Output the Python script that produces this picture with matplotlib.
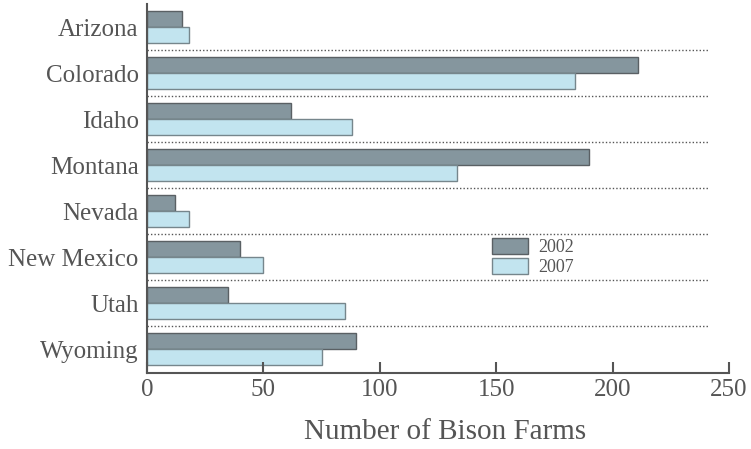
import numpy as np
import matplotlib
matplotlib.use("Agg")
import matplotlib.pyplot as plt

states = ["Arizona", "Colorado", "Idaho", "Montana", "Nevada", "New Mexico", "Utah", "Wyoming"]
farms_2002 = [15, 211, 62, 190, 12, 40, 35, 90]
farms_2007 = [18, 184, 88, 133, 18, 50, 85, 75]
x_ticks = [0, 50, 100, 150, 200, 250]

plt.rcParams['font.family'] = ['Liberation Serif', 'DejaVu Serif']
text_color = "#555555"

fig = plt.figure(figsize=(7.51, 4.49), dpi=100)
ax = fig.add_axes([0.1957, 0.1693, 0.775, 0.8217])

y = np.arange(len(states))
h = 0.35
ax.barh(y - h / 2, farms_2002, height=h, color="#85969e", edgecolor="#5a6064",
        linewidth=1, label="2002")
ax.barh(y + h / 2, farms_2007, height=h, color="#c2e4ef", edgecolor="#76868c",
        linewidth=1, label="2007")

# dotted separators between states
ax.hlines(y[:-1] + 0.5, 0, 241, colors="#555555", linestyles=(0, (1, 1.5)), linewidth=1)

ax.set_ylim(7.52, -0.5)
ax.set_xlim(0, 250)
ax.set_yticks(y)
ax.set_yticklabels(states, fontsize=18, color=text_color)
ax.tick_params(axis="y", length=0, pad=6)
ax.set_xticks(x_ticks)
ax.set_xticklabels([str(t) for t in x_ticks], fontsize=18, color=text_color)
ax.tick_params(axis="x", direction="in", length=8, width=1.5, color="#555555", pad=4)
ax.set_xlabel("Number of Bison Farms", fontsize=21, color=text_color)
ax.xaxis.set_label_coords(0.512, -0.125)

for side in ["top", "right"]:
    ax.spines[side].set_visible(False)
for side in ["left", "bottom"]:
    ax.spines[side].set_color("#555555")
    ax.spines[side].set_linewidth(1.5)

ax.legend(loc="center left", bbox_to_anchor=(0.565, 0.315), frameon=False,
          fontsize=13, labelcolor=text_color, handlelength=2.0, handleheight=1.0,
          labelspacing=0.1, handletextpad=0.55)

fig.savefig("out.png", dpi=100)
